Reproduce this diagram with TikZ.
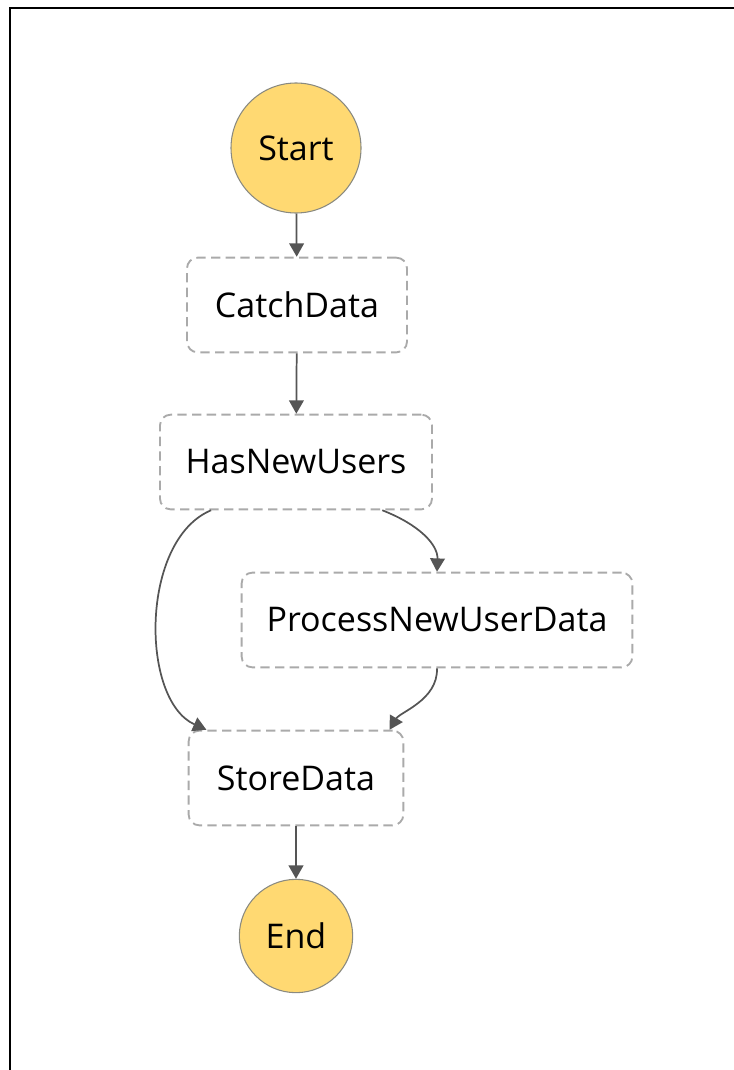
\documentclass[tikz,border=0pt]{standalone}
\usepackage{fontspec}
\setmainfont{Open Sans}
\usetikzlibrary{arrows.meta}
\definecolor{termfill}{HTML}{FFD972}
\definecolor{termline}{HTML}{8A8A80}
\definecolor{stateline}{HTML}{AAAAAA}
\definecolor{flowline}{HTML}{555555}
\begin{document}
\begin{tikzpicture}[>={Triangle[length=10pt,width=11pt]},x=0.75pt,y=-0.75pt,
	term/.style={circle,fill=termfill,draw=termline,line width=0.8pt,inner sep=0pt,font=\fontsize{25.5}{30}\selectfont},
	statebox/.style={rounded corners=8pt,draw=stateline,line width=1.4pt,dash pattern=on 7pt off 4pt,minimum height=71pt,font=\fontsize{25.5}{30}\selectfont},
	flow/.style={->,draw=flowline,line width=1.3pt}]
	\useasboundingbox (0,0) rectangle (734,1070);
	% screenshot frame
	\draw[line width=2pt] (10,1071) -- (10,8) -- (735,8);
	\node[term,minimum size=97.5pt] (start) at (296,148) {Start};
	\node[statebox,minimum width=165pt] (catch) at (297,305) {CatchData};
	\node[statebox,minimum width=204pt] (hasnew) at (296,462) {HasNewUsers};
	\node[statebox,minimum width=293pt] (process) at (437,620) {ProcessNewUserData};
	\node[statebox,minimum width=161pt] (store) at (296,778) {StoreData};
	\node[term,minimum size=85pt] (end) at (296,936) {End};
	\draw[flow] (start) -- (catch);
	\draw[flow] (catch) -- (hasnew);
	\draw[flow] ([xshift=39pt]hasnew.south west) .. controls (140,540) and (140,700) .. ([xshift=14pt]store.north west);
	\draw[flow] ([xshift=-38pt]hasnew.south east) .. controls (420,525) and (438,545) .. (process.north);
	\draw[flow] (process.south) .. controls (438,700) and (400,712) .. ([xshift=-11pt]store.north east);
	\draw[flow] (store) -- (end);
\end{tikzpicture}
\end{document}
